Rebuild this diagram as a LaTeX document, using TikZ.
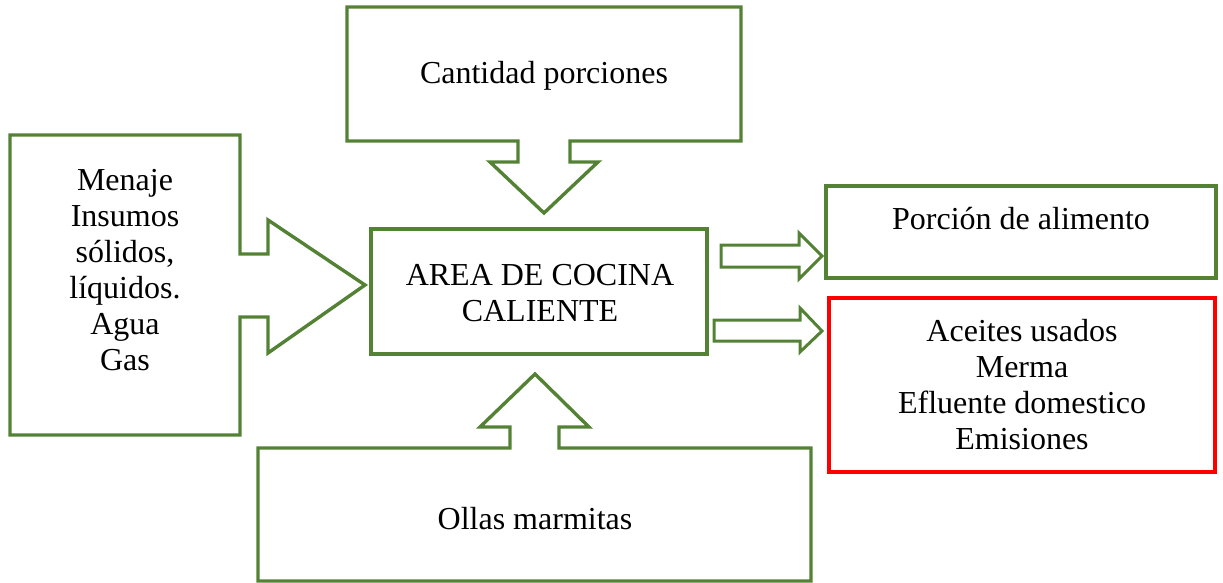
\documentclass[tikz,border=0pt]{standalone}
\usepackage{fontspec}
\setmainfont{Liberation Serif}
\definecolor{boxgreen}{HTML}{548235}
\definecolor{boxred}{HTML}{FF0000}
\tikzset{
  gshape/.style={draw=boxgreen, line width=3.4pt, line join=miter},
  rshape/.style={draw=boxred, line width=3.4pt},
  lbl/.style={align=center, inner sep=0pt, font=\fontsize{32}{36}\selectfont},
}
\begin{document}
\begin{tikzpicture}[x=1pt,y=-1pt]
\useasboundingbox (0,0) rectangle (1223,583);
% left callout (arrow right)
\draw[gshape] (10,135) -- (240,135) -- (240,254) -- (268,254) -- (268,220) -- (365,285)
  -- (268,353) -- (268,317) -- (240,317) -- (240,435) -- (10,435) -- cycle;
\node[lbl] (insumos) at (125,270) {Menaje\\Insumos\\sólidos,\\líquidos.\\Agua\\Gas};
% top callout (arrow down)
\draw[gshape] (347,7) -- (741,7) -- (741,141) -- (570,141) -- (570,162) -- (598,162) -- (544,213)
  -- (490,162) -- (518,162) -- (518,141) -- (347,141) -- cycle;
\node[lbl] (cantidad) at (544,76) {Cantidad porciones};
% bottom callout (arrow up)
\draw[gshape] (258,448) -- (510,448) -- (510,427) -- (480,427) -- (535,374) -- (589,427)
  -- (559,427) -- (559,448) -- (811,448) -- (811,581) -- (258,581) -- cycle;
\node[lbl] (ollas) at (535,519) {Ollas marmitas};
% centre box
\draw[gshape] (371,229) rectangle (707,354);
\node[lbl] (area) at (540,293) {AREA DE COCINA\\CALIENTE};
% outputs
\draw[gshape] (826,186) rectangle (1216,278);
\node[lbl] (porcion) at (1021,219) {Porción de alimento};
\draw[rshape] (829,298) rectangle (1215,472);
\node[lbl] (residuos) at (1022,385) {Aceites usados\\Merma\\Efluente domestico\\Emisiones};
% block arrows
\draw[gshape, line width=3pt] (721,245) -- (799,245) -- (799,233) -- (822,256) -- (799,279)
  -- (799,267) -- (721,267) -- cycle;
\draw[gshape, line width=3pt] (714,320) -- (800,320) -- (800,308) -- (822,331) -- (800,352)
  -- (800,341) -- (714,341) -- cycle;
\end{tikzpicture}
\end{document}
